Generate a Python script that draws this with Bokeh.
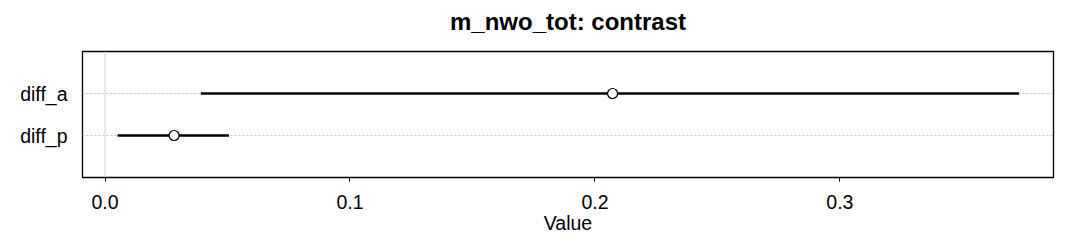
from bokeh.plotting import figure
from bokeh.models import ColumnDataSource, FactorRange, Range1d, FixedTicker, Span, PrintfTickFormatter, Title
from bokeh.embed import file_html
from bokeh.resources import INLINE

labels = ["diff_a", "diff_p"]
estimates = [0.2072, 0.0282]
lower = [0.0391, 0.0051]
upper = [0.3731, 0.0506]
x_ticks = [0.0, 0.1, 0.2, 0.3]
title_text = "m_nwo_tot: contrast"
x_label = "Value"

src = ColumnDataSource(dict(label=labels, est=estimates, lo=lower, hi=upper))

p = figure(width=1080, height=240, output_backend="svg", toolbar_location=None,
           y_range=FactorRange(factors=labels[::-1], range_padding=0.5),
           x_range=Range1d(-0.0092, 0.3872),
           min_border_left=82, min_border_right=27, min_border_top=50, min_border_bottom=63)

# spacer (closest to frame) then the visible title above it
p.add_layout(Title(text=" ", text_font_size="1px", standoff=9), "above")
p.add_layout(Title(text=title_text, align="center", vertical_align="bottom",
                   text_font="Liberation Sans", text_font_style="bold",
                   text_font_size="24px", text_color="black", standoff=10), "above")

p.outline_line_color = "black"
p.outline_line_width = 1.3
p.outline_line_alpha = 1.0

p.xgrid.grid_line_color = None
p.ygrid.grid_line_color = "#c0c0c0"
p.ygrid.grid_line_dash = "2 2"
p.ygrid.grid_line_width = 1

p.add_layout(Span(location=0, dimension="height", line_color="#d3d3d3", line_width=1))

p.segment(x0="lo", y0="label", x1="hi", y1="label", source=src, line_color="black", line_width=2.5)
p.scatter(x="est", y="label", source=src, size=10, marker="circle",
          fill_color="white", line_color="black", line_width=1.2)

xa = p.xaxis[0]
xa.ticker = FixedTicker(ticks=x_ticks)
xa.formatter = PrintfTickFormatter(format="%.1f")
xa.minor_tick_line_color = None
xa.axis_line_color = None
xa.major_tick_out = 4
xa.major_tick_in = 0
xa.major_tick_line_color = "black"
xa.major_label_text_font = "Liberation Sans"
xa.major_label_text_font_size = "19.5px"
xa.major_label_text_color = "black"
xa.major_label_standoff = 13
xa.axis_label = x_label
xa.axis_label_text_font = "Liberation Sans"
xa.axis_label_text_font_size = "19.5px"
xa.axis_label_text_font_style = "normal"
xa.axis_label_text_color = "black"
xa.axis_label_standoff = 0

ya = p.yaxis[0]
ya.axis_line_color = None
ya.major_tick_line_color = None
ya.minor_tick_line_color = None
ya.major_label_text_font = "Liberation Sans"
ya.major_label_text_font_size = "19.5px"
ya.major_label_text_color = "black"
ya.major_label_standoff = 9

open("out.html", "w").write(file_html(p, INLINE))
